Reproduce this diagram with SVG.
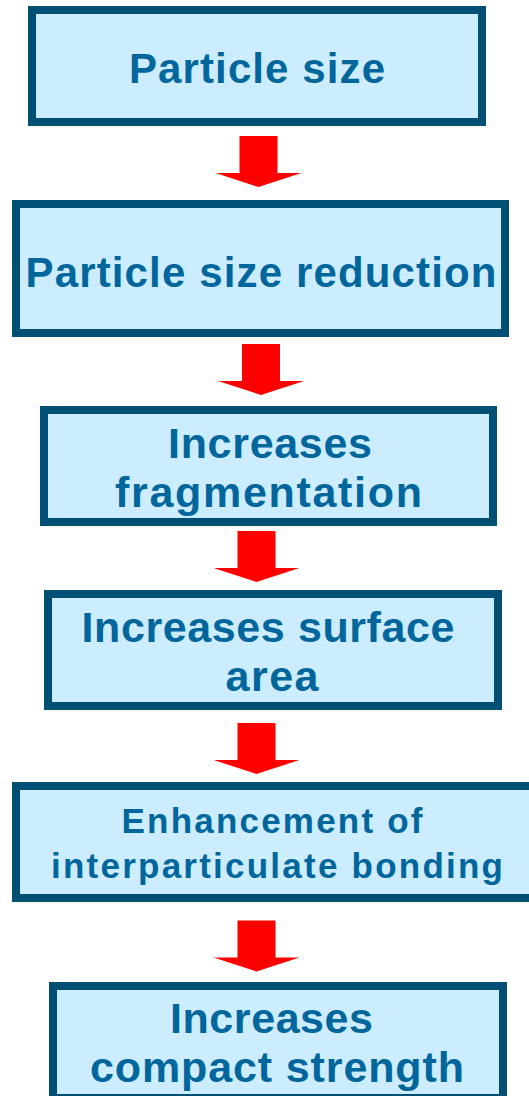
<svg xmlns="http://www.w3.org/2000/svg" width="529" height="1096" viewBox="0 0 529 1096">
  <style>
    .box { fill: #CCECFF; stroke: #004F75; stroke-width: 8; }
    .lbl { font-family: "Liberation Sans", Arial, sans-serif; font-weight: bold; fill: #00669C; text-anchor: middle; }
    .big { font-size: 43px; }
    .mid { font-size: 42px; }
    .sm { font-size: 35px; }
    .arrow { fill: #FF0000; }
  </style>
  <defs>
    <!-- block arrow pointing down, origin at top-centre of the shaft -->
    <path id="down" d="M-19,0 H19 V37 H43 L0,51 L-43,37 H-19 Z"/>
  </defs>
  <rect width="529" height="1096" fill="#FFFFFF"/>

  <g id="connectors" class="arrow">
    <use href="#down" x="258.5" y="136"/>
    <use href="#down" x="261" y="344"/>
    <use href="#down" x="256.5" y="531"/>
    <use href="#down" x="256.5" y="723"/>
    <use href="#down" x="256.5" y="920.5"/>
  </g>

  <g id="particle-size">
    <rect class="box" x="32" y="10" width="450" height="112"/>
    <text class="lbl mid" x="257" y="83" textLength="256" lengthAdjust="spacing">Particle size</text>
  </g>

  <g id="size-reduction">
    <rect class="box" x="16" y="204" width="489" height="129"/>
    <text class="lbl mid" x="261" y="287" textLength="471" lengthAdjust="spacing">Particle size reduction</text>
  </g>

  <g id="fragmentation">
    <rect class="box" x="44" y="410" width="449" height="112"/>
    <text class="lbl big" x="270" y="458" textLength="204" lengthAdjust="spacing">Increases</text>
    <text class="lbl big" x="268.5" y="507" textLength="307" lengthAdjust="spacing">fragmentation</text>
  </g>

  <g id="surface-area">
    <rect class="box" x="48" y="594" width="450" height="112"/>
    <text class="lbl big" x="268" y="642" textLength="373" lengthAdjust="spacing">Increases surface</text>
    <text class="lbl big" x="272" y="691" textLength="93" lengthAdjust="spacing">area</text>
  </g>

  <g id="bonding">
    <rect class="box" x="16" y="786" width="520" height="112"/>
    <text class="lbl sm" x="272" y="833" textLength="301" lengthAdjust="spacing">Enhancement of</text>
    <text class="lbl sm" x="277" y="878" textLength="452" lengthAdjust="spacing">interparticulate bonding</text>
  </g>

  <g id="compact-strength">
    <rect class="box" x="53" y="986" width="450" height="112"/>
    <text class="lbl big" x="271.5" y="1033" textLength="203" lengthAdjust="spacing">Increases</text>
    <text class="lbl big" x="277" y="1082" textLength="374" lengthAdjust="spacing">compact strength</text>
  </g>
</svg>
